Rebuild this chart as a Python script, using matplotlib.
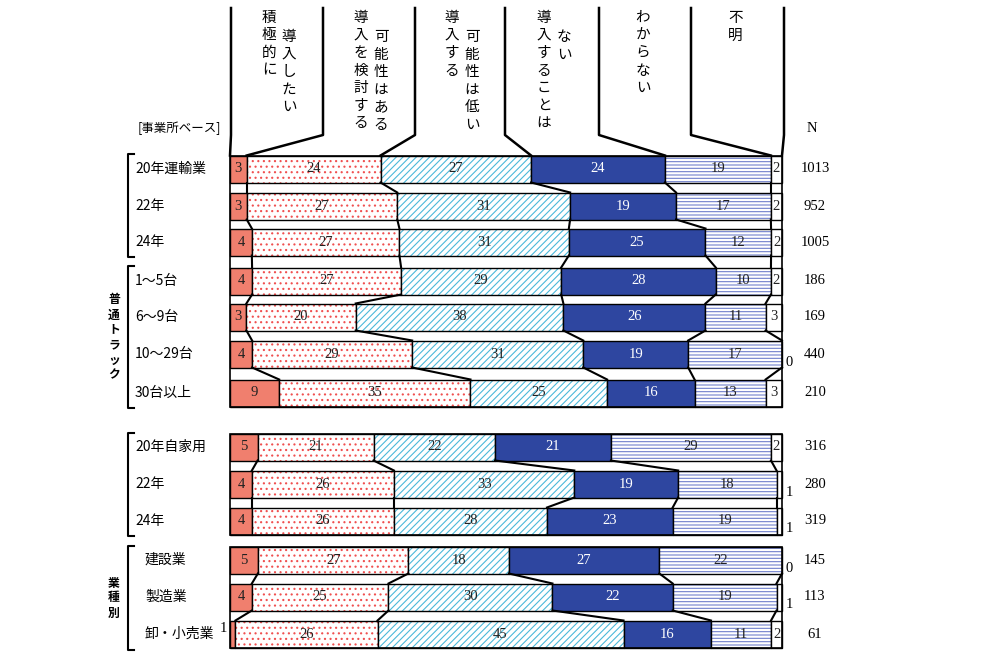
import matplotlib
matplotlib.use("Agg")
import matplotlib.pyplot as plt
from matplotlib.patches import Rectangle

plt.rcParams['hatch.linewidth'] = 0.8
JP = "Noto Sans CJK JP"
SER = "Liberation Serif"

row_labels = ["20年運輸業", "22年", "24年", "1～5台", "6～9台", "10～29台", "30台以上",
              "20年自家用", "22年", "24年", "建設業", "製造業", "卸・小売業"]
v_sekkyoku = [3, 3, 4, 4, 3, 4, 9, 5, 4, 4, 5, 4, 1]
v_kento    = [24, 27, 27, 27, 20, 29, 35, 21, 26, 26, 27, 25, 26]
v_hikui    = [27, 31, 31, 29, 38, 31, 25, 22, 33, 28, 18, 30, 45]
v_nai      = [24, 19, 25, 28, 26, 19, 16, 21, 19, 23, 27, 22, 16]
v_wakaranai= [19, 17, 12, 10, 11, 17, 13, 29, 18, 19, 22, 19, 11]
v_fumei    = [2, 2, 2, 2, 3, 0, 3, 2, 1, 1, 0, 1, 2]
n_values   = [1013, 952, 1005, 186, 169, 440, 210, 316, 280, 319, 145, 113, 61]
header_cols = [["導入したい", "積極的に"], ["可能性はある", "導入を検討する"],
               ["可能性は低い", "導入する"], ["ない", "導入することは"],
               ["わからない"], ["不明"]]

series = [v_sekkyoku, v_kento, v_hikui, v_nai, v_wakaranai, v_fumei]
fig = plt.figure(figsize=(10, 6.67), dpi=100)
ax = fig.add_axes([0, 0, 1, 1])
ax.set_xlim(0, 1000); ax.set_ylim(667, 0); ax.axis("off")

X0, X1 = 230, 782
W = X1 - X0
centers = [169, 206, 242, 281, 317, 354, 393, 447, 484, 521, 560, 597, 634]
H = 27
styles = [dict(fc="#F07F6E", hatch=None, hc=None),
          dict(fc="white", hatch="...", hc="#F05050"),
          dict(fc="white", hatch="/////", hc="#4CB8DA"),
          dict(fc="#2E46A0", hatch=None, hc=None),
          dict(fc="white", hatch="-----", hc="#7080CC"),
          dict(fc="white", hatch=None, hc=None)]

bounds = []
for i, yc in enumerate(centers):
    vals = [s[i] for s in series]
    tot = sum(vals)
    x = X0
    bx = [x]
    top = yc - H / 2
    for k, v in enumerate(vals):
        w = v / tot * W
        st = styles[k]
        if w > 0:
            if st["hatch"]:
                ax.add_patch(Rectangle((x, top), w, H, fc=st["fc"], ec=st["hc"], hatch=st["hatch"], lw=0))
            else:
                ax.add_patch(Rectangle((x, top), w, H, fc=st["fc"], lw=0))
            ax.add_patch(Rectangle((x, top), w, H, fill=False, ec="black", lw=1))
        cx = x + w / 2
        col = "white" if k == 3 else "#222222"
        if v >= 2:
            ax.text(cx, yc, str(v), ha="center", va="center", fontsize=10.5, family=SER, color=col)
        elif k == 0:
            ax.text(x - 3, yc - 6, str(v), ha="right", va="center", fontsize=10.5, family=SER)
        elif k == 5:
            ax.text(X1 + 7, yc + 8, str(v), ha="center", va="center", fontsize=10.5, family=SER)
        x += w
        bx.append(x)
    bounds.append(bx)
    ax.text(815, yc, str(n_values[i]), ha="center", va="center", fontsize=10.5, family=SER)
    lx = 145 if i in (10, 11, 12) else 135
    ax.text(lx, yc, row_labels[i], ha="left", va="center", fontsize=10, family=JP)

groups = [(0, 6), (7, 9), (10, 12)]
for a, b in groups:
    for i in range(a, b):
        for k in range(1, 6):
            ax.plot([bounds[i][k], bounds[i + 1][k]], [centers[i] + H / 2, centers[i + 1] - H / 2], color="black", lw=1.5)
    ax.add_patch(Rectangle((X0, centers[a] - H / 2), W, centers[b] - centers[a] + H, fill=False, ec="black", lw=1.2))

tops = [231, 323, 415, 505, 599, 691, 784]
ends = [X0] + bounds[0][1:6] + [X1]
for t, e in zip(tops, ends):
    ax.plot([t, t, e], [8, 135, centers[0] - H / 2], color="black", lw=1.8)
for c, cols in enumerate(header_cols):
    left, right = tops[c], tops[c + 1]
    if len(cols) == 2:
        xs = [(left + right) / 2 + 12, (left + right) / 2 - 8]
        ys = [37, 18]
    else:
        xs = [(left + right) / 2 - 2]
        ys = [18]
    for txt, xx, y0 in zip(cols, xs, ys):
        for j, ch in enumerate(txt):
            ax.text(xx, y0 + j * 17.5, ch, ha="center", va="center", fontsize=10.5, family=JP)

ax.text(138, 128, "[事業所ベース]", ha="left", va="center", fontsize=9, family=JP)
ax.text(812, 128, "N", ha="center", va="center", fontsize=10.5, family=SER)

def bracket(y0, y1, x=128):
    ax.plot([x + 6, x, x, x + 6], [y0, y0, y1, y1], color="black", lw=1.5)
bracket(154, 257)
bracket(266, 408)
bracket(433, 536)
bracket(546, 650)
for j, ch in enumerate("普通トラック"):
    ax.text(114, 300 + j * 15, ch, ha="center", va="center", fontsize=8.5, family=JP, weight="bold")
for j, ch in enumerate("業種別"):
    ax.text(114, 583 + j * 15, ch, ha="center", va="center", fontsize=8.5, family=JP, weight="bold")

fig.savefig("out.png", dpi=100)
